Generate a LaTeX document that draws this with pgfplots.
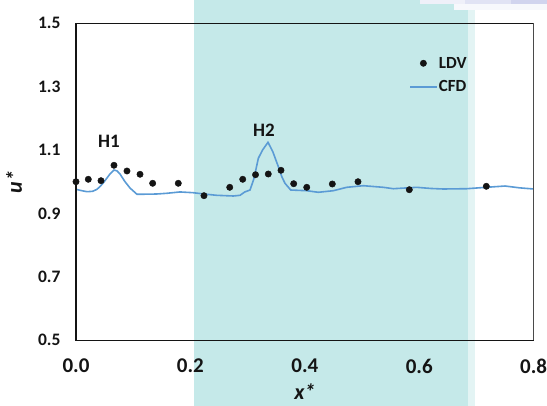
\documentclass[border=0pt]{standalone}
\usepackage{fontspec}
\setmainfont{Carlito}
\usepackage{pgfplots}
\pgfplotsset{compat=1.18}

\definecolor{zoneteal}{HTML}{C5E9E9}
\definecolor{zoneedge}{HTML}{E3F4F4}
\definecolor{cfdblue}{HTML}{5B9BD5}
\definecolor{topband}{HTML}{C9CDEB}
\definecolor{inkdark}{HTML}{141414}
\definecolor{framegray}{HTML}{4A4A4A}

\pgfplotsset{
  ldv key/.style={legend image code/.code={%
    \path[draw=none, fill=none] (0pt,0pt) -- (26.4pt,0pt);
    \draw[##1, draw=none] plot coordinates {(13.2pt,0pt)};}},
  cfd key/.style={legend image code/.code={%
    \draw[##1] (0pt,0pt) -- (26.4pt,0pt);}},
}

% LDV measurements
\pgfplotstableread{
x       u
0.0000  1.0003
0.0215  1.0079
0.0437  1.0035
0.0664  1.0521
0.0891  1.0341
0.1119  1.0237
0.1340  0.9953
0.1788  0.9953
0.2237  0.9562
0.2687  0.9826
0.2914  1.0079
0.3138  1.0224
0.3361  1.0246
0.3583  1.0363
0.3805  0.9940
0.4033  0.9826
0.4480  0.9931
0.4929  1.0003
0.5826  0.9751
0.7172  0.9858
}\ldvdata

% CFD centreline profile
\pgfplotstableread{
x       u
0.0000  0.9763
0.0100  0.9720
0.0192  0.9688
0.0290  0.9700
0.0367  0.9763
0.0430  0.9870
0.0489  0.9994
0.0594  1.0246
0.0664  1.0372
0.0720  1.0340
0.0769  1.0246
0.0850  1.0020
0.0944  0.9804
0.1066  0.9606
0.1250  0.9610
0.1410  0.9615
0.1585  0.9637
0.1818  0.9680
0.2050  0.9656
0.2237  0.9615
0.2459  0.9574
0.2750  0.9552
0.2867  0.9574
0.2950  0.9680
0.3042  0.9741
0.3110  1.0100
0.3187  1.0741
0.3260  1.1000
0.3356  1.1246
0.3440  1.0950
0.3537  1.0476
0.3600  1.0150
0.3653  0.9953
0.3753  0.9741
0.4033  0.9719
0.4235  0.9669
0.4497  0.9719
0.4732  0.9826
0.5022  0.9877
0.5372  0.9826
0.5546  0.9782
0.5955  0.9826
0.6200  0.9790
0.6420  0.9773
0.6829  0.9782
0.7172  0.9826
0.7499  0.9867
0.7750  0.9810
0.8000  0.9773
}\cfddata

\begin{document}
\begin{tikzpicture}
\begin{axis}[
  scale only axis,
  width=457.7pt, height=317pt,
  xmin=0, xmax=0.8, ymin=0.5, ymax=1.5,
  xtick={0,0.2,0.4,0.6,0.8},
  ytick={0.5,0.7,0.9,1.1,1.3,1.5},
  major tick length=0pt,
  axis line style={draw=none},
  clip=false,
  axis on top,
  /pgf/number format/.cd, fixed, fixed zerofill, precision=1, assume math mode=true,
  /pgfplots/.cd,
  xticklabel style={font=\fontsize{21}{24}\selectfont\bfseries, text=inkdark, yshift=-15pt},
  yticklabel style={font=\fontsize{17.5}{20}\selectfont\bfseries, text=inkdark, xshift=-12pt},
  xlabel={\textbf{\textit{x*}}},
  ylabel={\textbf{\textit{u*}}},
  xlabel style={font=\fontsize{22}{24}\selectfont, text=inkdark, at={(axis description cs:0.5,0)}, anchor=center, yshift=-51pt},
  ylabel style={font=\fontsize{22}{24}\selectfont, text=inkdark, at={(axis description cs:0,0.5)}, anchor=center, yshift=62pt},
  legend style={draw=none, fill=none, at={(rel axis cs:0.728,0.899)}, anchor=north west,
    font=\fontsize{17}{20}\selectfont\bfseries, text=inkdark, inner sep=0pt, row sep=8pt,
    nodes={inner sep=1.5pt}},
  legend cell align=left,
]
% shaded test-section zone
\fill[zoneteal] (axis cs:0.2063,0.20) rectangle (axis cs:0.6852,1.70);
\fill[zoneedge] (axis cs:0.6852,0.20) rectangle (axis cs:0.6969,1.70);
% faint band along the top right
\fill[topband!30] (axis cs:0.601,1.5609) rectangle (axis cs:0.68,1.60);
\fill[topband!55] (axis cs:0.68,1.5609) rectangle (axis cs:0.76,1.60);
\fill[topband!85] (axis cs:0.76,1.5609) rectangle (axis cs:0.83,1.60);
\fill[topband!15] (axis cs:0.66,1.5420) rectangle (axis cs:0.83,1.5609);

\addplot[only marks, mark=*, mark size=3.2pt, color=inkdark, ldv key]
  table[x=x, y=u] {\ldvdata};
\addlegendentry{LDV}

\addplot[cfdblue, line width=1.6pt, mark=none, cfd key]
  table[x=x, y=u] {\cfddata};
\addlegendentry{CFD}

% plot frame
\addplot[inkdark, line width=1.5pt, mark=none, line cap=rect, forget plot]
  coordinates {(0.8,0.5) (0,0.5) (0,1.5) (0.8,1.5)};
\addplot[framegray, line width=1.1pt, mark=none, forget plot]
  coordinates {(0.8,0.5) (0.8,1.5)};

\node[font=\fontsize{19}{22}\selectfont\bfseries, text=inkdark] at (axis cs:0.0577,1.1265) {H1};
\node[font=\fontsize{19}{22}\selectfont\bfseries, text=inkdark] at (axis cs:0.3286,1.164) {H2};

\coordinate (frameSW) at (rel axis cs:0,0);
\end{axis}
\pgfresetboundingbox
\path (frameSW) ++(-76pt,-64.7pt) rectangle ++(547pt,405pt);
\end{tikzpicture}
\end{document}
